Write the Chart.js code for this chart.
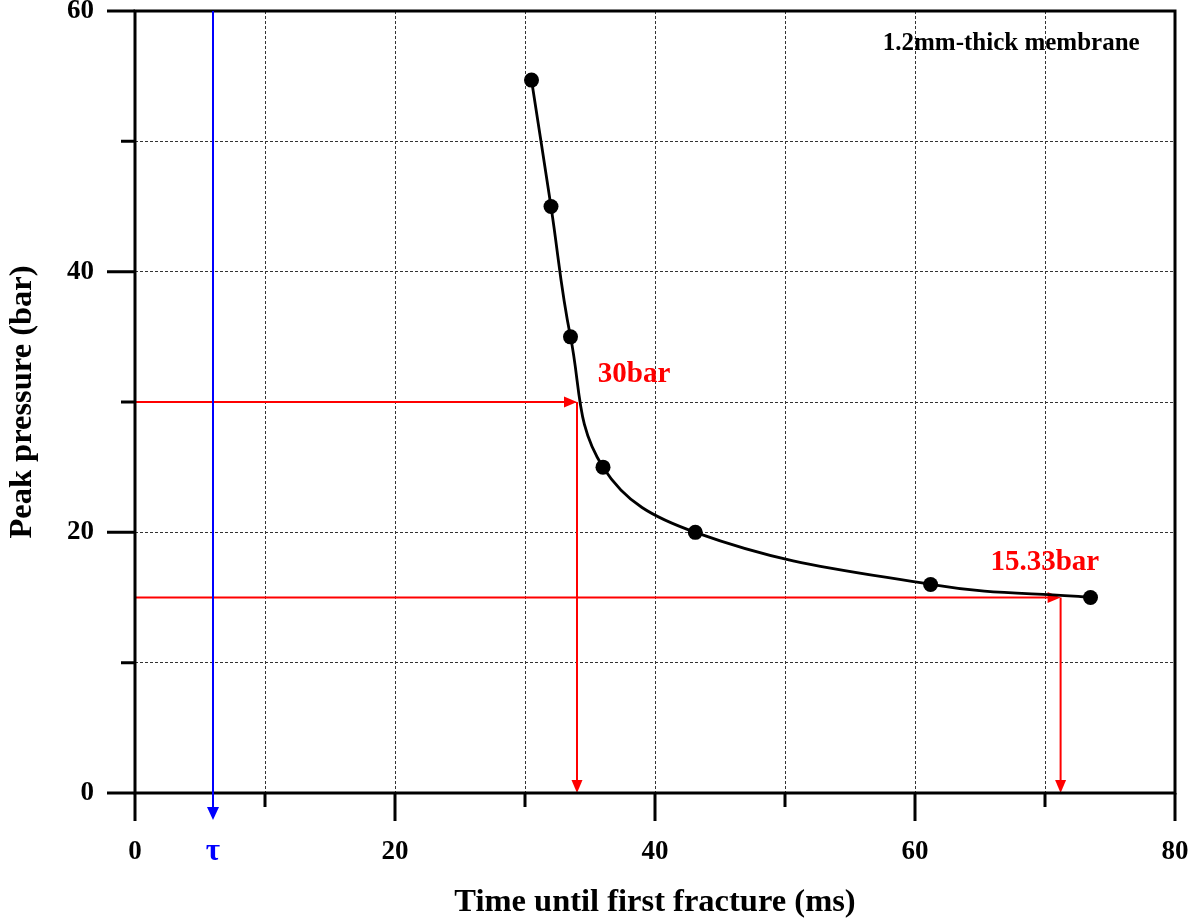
<!DOCTYPE html>
<html>
<head>
<meta charset="utf-8">
<title>Peak pressure vs time until first fracture</title>
<script src="https://cdn.jsdelivr.net/npm/chart.js@4.4.1/dist/chart.umd.min.js"></script>
<style>
    html, body { margin: 0; padding: 0; background: #fff; }
    canvas { display: block; }
</style>
</head>
<body>
<canvas id="chart" width="1192" height="922"></canvas>
<script>
// Measured points, 1.2mm-thick membrane
const timeMs = [30.5, 32.0, 33.5, 36.0, 43.1, 61.2, 73.5];
const peakBar = [54.7, 45.0, 35.0, 25.0, 20.0, 16.0, 15.0];

// Axis ticks and their labels
const xTicks = [0, 10, 20, 30, 40, 50, 60, 70, 80];
const xTickLabels = ['0', '', '20', '', '40', '', '60', '', '80'];
const yTicks = [0, 10, 20, 30, 40, 50, 60];
const yTickLabels = ['0', '', '20', '', '40', '', '60'];

// Guide lines: [time, pressure] where they meet the curve
const guide30 = [34.0, 30];
const guide15 = [71.2, 15.0];
const tauMs = 6.0;

const FONT = "'Liberation Serif', 'Times New Roman', serif";

// Draw a line with a filled arrow head at (x2, y2)
function arrow(ctx, x1, y1, x2, y2, len, half) {
    const a = Math.atan2(y2 - y1, x2 - x1);
    const c = Math.cos(a), s = Math.sin(a);
    ctx.beginPath();
    ctx.moveTo(x1, y1);
    ctx.lineTo(x2 - c * len * 0.7, y2 - s * len * 0.7);
    ctx.stroke();
    ctx.beginPath();
    ctx.moveTo(x2, y2);
    ctx.lineTo(x2 - c * len + s * half, y2 - s * len - c * half);
    ctx.lineTo(x2 - c * len - s * half, y2 - s * len + c * half);
    ctx.closePath();
    ctx.fill();
}

const decorations = {
    id: 'decorations',
    beforeDatasetsDraw(chart) {
        const { ctx, scales: { x, y } } = chart;
        ctx.save();
        ctx.strokeStyle = '#ff0000';
        ctx.fillStyle = '#ff0000';
        ctx.lineWidth = 2;
        [guide30, guide15].forEach(([gx, gy]) => {
            const px = x.getPixelForValue(gx), py = y.getPixelForValue(gy);
            arrow(ctx, x.getPixelForValue(0), py, px, py, 13, 5.5);
            arrow(ctx, px, py, px, y.getPixelForValue(0), 13, 5.5);
        });
        ctx.restore();
    },
    afterDraw(chart) {
        const { ctx, chartArea: a, scales: { x, y } } = chart;
        ctx.save();

        // frame
        ctx.strokeStyle = '#000';
        ctx.lineWidth = 3;
        ctx.strokeRect(a.left, a.top, a.right - a.left, a.bottom - a.top);

        // outward ticks, long on labelled values
        ctx.beginPath();
        xTicks.forEach((v, i) => {
            const px = x.getPixelForValue(v);
            ctx.moveTo(px, a.bottom);
            ctx.lineTo(px, a.bottom + (xTickLabels[i] ? 28 : 14));
        });
        yTicks.forEach((v, i) => {
            const py = y.getPixelForValue(v);
            ctx.moveTo(a.left, py);
            ctx.lineTo(a.left - (yTickLabels[i] ? 28 : 14), py);
        });
        ctx.stroke();

        // tau marker
        const tx = x.getPixelForValue(tauMs);
        ctx.strokeStyle = '#0000ff';
        ctx.fillStyle = '#0000ff';
        ctx.lineWidth = 2;
        arrow(ctx, tx, a.top, tx, a.bottom + 27, 13, 6);
        ctx.font = 'bold 31px ' + FONT;
        ctx.textAlign = 'center';
        ctx.textBaseline = 'middle';
        ctx.fillText('τ', tx, 852);

        // annotations
        ctx.fillStyle = '#000';
        ctx.font = 'bold 25px ' + FONT;
        ctx.fillText('1.2mm-thick membrane', x.getPixelForValue(67.4), y.getPixelForValue(57.5));
        ctx.fillStyle = '#ff0000';
        ctx.font = 'bold 29px ' + FONT;
        ctx.textAlign = 'left';
        ctx.fillText('30bar', x.getPixelForValue(35.6), y.getPixelForValue(32.1));
        ctx.fillText('15.33bar', x.getPixelForValue(65.8), y.getPixelForValue(17.7));
        ctx.restore();
    }
};

const gridOpts = {
    drawTicks: false,
    color: '#333',
    lineWidth: 1
};

new Chart(document.getElementById('chart'), {
    type: 'line',
    data: {
        datasets: [{
            data: timeMs.map((t, i) => ({ x: t, y: peakBar[i] })),
            borderColor: '#000',
            borderWidth: 2.8,
            tension: 0.4,
            pointRadius: 7.5,
            pointBackgroundColor: '#000',
            pointBorderWidth: 0,
            fill: false
        }]
    },
    options: {
        responsive: false,
        animation: false,
        layout: { padding: { top: 11, right: 17, left: 0, bottom: 0 } },
        plugins: {
            legend: { display: false },
            tooltip: { enabled: false }
        },
        scales: {
            x: {
                type: 'linear',
                min: 0,
                max: 80,
                afterBuildTicks: s => { s.ticks = xTicks.map(v => ({ value: v })); },
                afterFit: s => { s.height = 129; s.paddingLeft = 0; s.paddingRight = 0; },
                ticks: {
                    callback: (v, i) => xTickLabels[i],
                    color: '#000',
                    font: { family: FONT, size: 27, weight: 'bold' },
                    padding: 43,
                    maxRotation: 0,
                    autoSkip: false
                },
                grid: gridOpts,
                border: { display: false, dash: [3, 2] },
                title: {
                    display: true,
                    text: 'Time until first fracture (ms)',
                    color: '#000',
                    font: { family: FONT, size: 32.5, weight: 'bold', lineHeight: 1.2 },
                    padding: { top: 0, bottom: 0 }
                }
            },
            y: {
                type: 'linear',
                min: 0,
                max: 60,
                afterBuildTicks: s => { s.ticks = yTicks.map(v => ({ value: v })); },
                afterFit: s => { s.width = 135; s.paddingTop = 0; s.paddingBottom = 0; },
                ticks: {
                    callback: (v, i) => yTickLabels[i],
                    color: '#000',
                    font: { family: FONT, size: 27, weight: 'bold' },
                    padding: 41,
                    autoSkip: false
                },
                grid: gridOpts,
                border: { display: false, dash: [3, 2] },
                title: {
                    display: true,
                    text: 'Peak pressure (bar)',
                    color: '#000',
                    font: { family: FONT, size: 32.5, weight: 'bold', lineHeight: 1.2 },
                    padding: { top: 3, bottom: 0 }
                }
            }
        }
    },
    plugins: [decorations]
});
</script>
</body>
</html>
